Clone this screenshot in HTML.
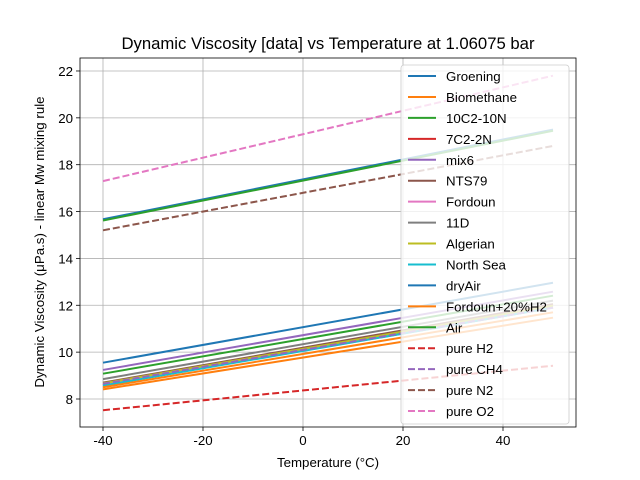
<!DOCTYPE html>
<html><head><meta charset="utf-8"><style>body{margin:0;background:#fff}svg{display:block;font-family:"Liberation Sans","DejaVu Sans",sans-serif}</style></head>
<body>
<svg id="c" width="640" height="480"></svg>
<script>
const names=["Groening","Biomethane","10C2-10N","7C2-2N","mix6","NTS79","Fordoun","11D","Algerian","North Sea","dryAir","Fordoun+20%H2","Air","pure H2","pure CH4","pure N2","pure O2"];
const colors=["#1f77b4","#ff7f0e","#2ca02c","#d62728","#9467bd","#8c564b","#e377c2","#7f7f7f","#bcbd22","#17becf","#1f77b4","#ff7f0e","#2ca02c","#d62728","#9467bd","#8c564b","#e377c2"];
const dashed=[0,0,0,0,0,0,0,0,0,0,0,0,0,1,1,1,1];
const vStart=[9.55,8.41,9.08,8.6,9.24,8.7,8.63,8.85,8.67,8.57,15.67,8.5,15.62,7.52,8.65,15.2,17.3];
const vEnd=[12.96,11.47,12.41,11.9,12.58,12.05,11.95,12.2,11.98,11.9,19.5,11.7,19.45,9.42,11.9,18.8,21.8];
const tStart=-40,tEnd=50;
const xTicks=[-40,-20,0,20,40];
const yTicks=[8,10,12,14,16,18,20,22];
const L=80,R=576,T=58,B=427;
const X=v=>303+v*5, Y=v=>399-(v-8)*23.43;
const s=document.getElementById('c');const NS="http://www.w3.org/2000/svg";
function el(t,a,p){const e=document.createElementNS(NS,t);for(const k in a)e.setAttribute(k,a[k]);(p||s).appendChild(e);return e;}
xTicks.forEach(t=>{const g=el('line',{x1:X(t),x2:X(t),y1:T,y2:B,stroke:'#b0b0b0','stroke-width':0.8});

el('line',{x1:X(t),x2:X(t),y1:B,y2:B+4,stroke:'#000','stroke-width':0.8});
const tx=el('text',{x:X(t),y:B+18,'font-size':'13.3','text-anchor':'middle'});tx.textContent=t;
});
yTicks.forEach(t=>{const g=el('line',{x1:L,x2:R,y1:Y(t),y2:Y(t),stroke:'#b0b0b0','stroke-width':0.8});

el('line',{x1:L-4,x2:L,y1:Y(t),y2:Y(t),stroke:'#000','stroke-width':0.8});
const tx=el('text',{x:L-7,y:Y(t)+5,'font-size':'13.3','text-anchor':'end'});tx.textContent=t;
});
names.forEach((n,i)=>{const l=el('line',{x1:X(tStart),y1:Y(vStart[i]),x2:X(tEnd),y2:Y(vEnd[i]),stroke:colors[i],'stroke-width':2,'stroke-dasharray':dashed[i]?'7,3':'none'});
});
const fr=el('rect',{x:L,y:T,width:R-L,height:B-T,fill:'none',stroke:'#000','stroke-width':0.8});

const lg=el('g',{});
el('rect',{x:401,y:65,width:168,height:359,rx:3,fill:'#fff','fill-opacity':0.8,stroke:'#ccc','stroke-width':0.8},lg);
names.forEach((n,i)=>{const y=76+i*20.94;
el('line',{x1:408,x2:436,y1:y,y2:y,stroke:colors[i],'stroke-width':2,'stroke-dasharray':dashed[i]?'7,3':'none'},lg);
const t=el('text',{x:446,y:y+5,'font-size':'13.3'},lg);t.textContent=n;
});
const ti=el('text',{x:328,y:49,'font-size':'16.7','text-anchor':'middle'});ti.textContent='Dynamic Viscosity [data] vs Temperature at 1.06075 bar';

const xl=el('text',{x:328,y:467,'font-size':'13.3','text-anchor':'middle'});xl.textContent='Temperature (°C)';

const yl=el('text',{x:0,y:0,'font-size':'13.3','text-anchor':'middle',transform:'translate(44,242) rotate(-90)'});yl.textContent='Dynamic Viscosity (μPa.s) - linear Mw mixing rule';

</script>
</body></html>
